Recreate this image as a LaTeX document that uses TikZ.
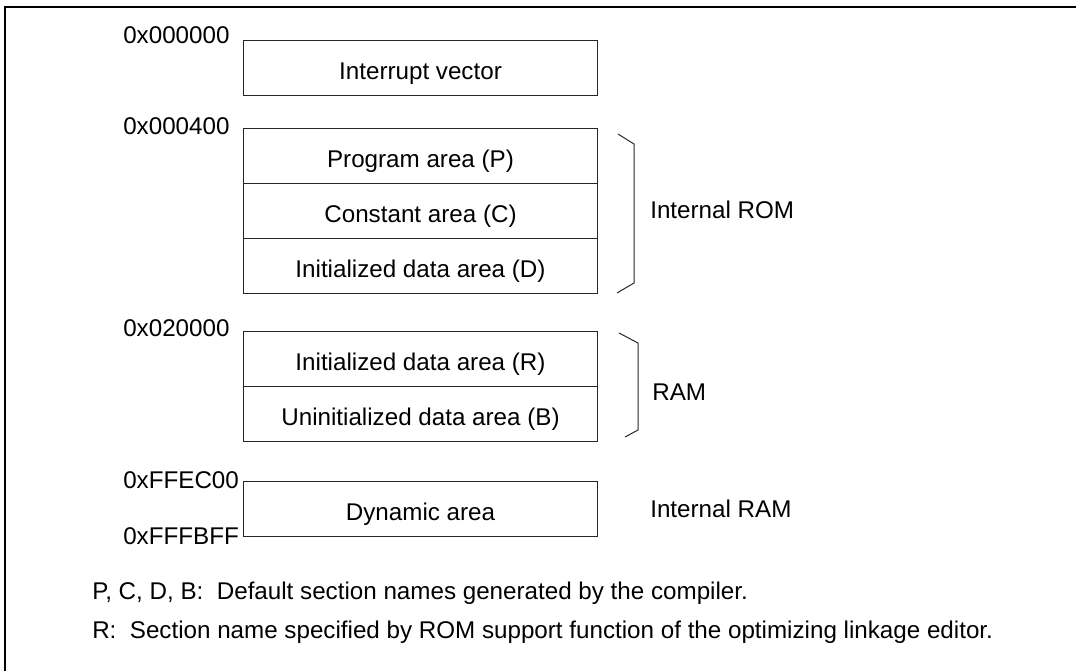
\documentclass[tikz,border=0pt]{standalone}
\usepackage{fontspec}
\setmainfont{Liberation Sans}
\begin{document}
\begin{tikzpicture}[x=0.025cm,y=-0.025cm]
	\tikzstyle{area}=[draw=black!85,line width=0.7pt,minimum width=8.825cm,minimum height=1.375cm,inner sep=0pt,outer sep=0pt,text height=16.4pt,text depth=0pt,font=\fontsize{17.2}{20}\selectfont]
	\tikzstyle{addr}=[anchor=west,inner sep=0pt,font=\fontsize{17.2}{20}\selectfont]
	\tikzstyle{region}=[anchor=west,inner sep=0pt,font=\fontsize{17.2}{20}\selectfont]
	\tikzstyle{note}=[anchor=base west,inner sep=0pt,font=\fontsize{17.2}{20}\selectfont]
	\tikzstyle{brace}=[draw=black!85,line width=0.7pt]
	\useasboundingbox (0,0) rectangle (1076,671);
	\draw[line width=1.4pt] (5,671) -- (5,7) -- (1076,7);
	% memory areas
	\node[area] (ivec) at (420.5,67.5) {Interrupt vector};
	\node[area] (prog) at (420.5,155.5) {Program area (P)};
	\node[area] (const) at (420.5,210.5) {Constant area (C)};
	\node[area] (idata) at (420.5,265.5) {Initialized data area (D)};
	\node[area] (rdata) at (420.5,358.5) {Initialized data area (R)};
	\node[area] (udata) at (420.5,413.5) {Uninitialized data area (B)};
	\node[area] (dyn) at (420.5,508.5) {Dynamic area};
	% addresses
	\node[addr] (a_1) at (123,35) {0x000000};
	\node[addr] (a_2) at (123,126) {0x000400};
	\node[addr] (a_3) at (123,328) {0x020000};
	\node[addr] (a_4) at (123,480) {0xFFEC00};
	\node[addr] (a_5) at (123,536) {0xFFFBFF};
	% braces
	\draw[brace] (618,134) -- (634,144) -- (634,283) -- (617,293);
	\draw[brace] (619,333) -- (638,343) -- (638,430) -- (625,437);
	\node[region] (rom) at (650,210) {Internal ROM};
	\node[region] (ram) at (652,392) {RAM};
	\node[region] (iram) at (650,509) {Internal RAM};
	% notes
	\node[note] (n_1) at (92,599) {P, C, D, B:\ \ Default section names generated by the compiler.};
	\node[note] (n_2) at (92,638) {R:\ \ Section name specified by ROM support function of the optimizing linkage editor.};
\end{tikzpicture}
\end{document}
